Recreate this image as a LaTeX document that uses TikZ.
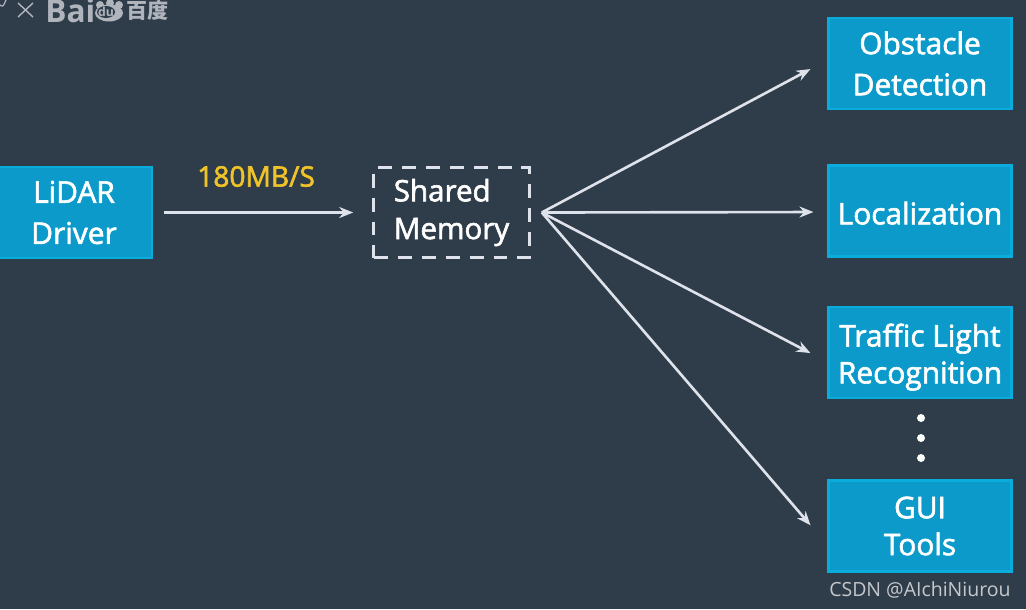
\documentclass[tikz,border=0pt]{standalone}
\usepackage{fontspec}
\setmainfont[FakeBold=2]{Open Sans}
\newfontfamily\cjkfont{Noto Sans CJK SC}
\newfontfamily\plainfont{Open Sans}
\usepackage{xcolor}
\usetikzlibrary{arrows.meta,positioning}
\definecolor{slatebg}{RGB}{47,60,73}
\definecolor{boxfill}{RGB}{11,154,201}
\definecolor{boxline}{RGB}{10,172,220}
\definecolor{arrowline}{RGB}{222,226,234}
\definecolor{ratelabel}{RGB}{240,196,40}
\definecolor{logogrey}{RGB}{176,180,188}
\tikzset{
  modulebox/.style={draw=boxline,fill=boxfill,line width=1.2pt,text=white,align=center,
    minimum width=3.66cm,minimum height=1.82cm,inner sep=0pt,font=\fontsize{17}{23.4}\selectfont},
  tightbox/.style={modulebox,font=\fontsize{17}{21}\selectfont},
  flowline/.style={->,arrowline,line width=1.5pt},
  dotnode/.style={circle,fill=white,inner sep=0pt,minimum size=0.16cm},
  logotext/.style={logogrey,inner sep=0pt,font=\plainfont\bfseries\fontsize{18}{18}\selectfont}
}
\begin{document}
\begin{tikzpicture}[x=0.02cm,y=-0.02cm,>={Stealth[length=0.28cm,width=0.22cm]}]
  \useasboundingbox (0,0) rectangle (1026,609);
  \fill[slatebg] (0,0) rectangle (1026,609);
  % boxes
  \node[modulebox,minimum width=3.12cm] (lidar) at (74,212.5) {LiDAR\\Driver};
  \node[draw=arrowline,dash pattern=on 0.28cm off 0.2cm,line width=1.5pt,text=white,align=left,
        minimum width=3.12cm,minimum height=1.8cm,inner sep=0pt,
        font=\fontsize{16.8}{21.5}\selectfont] (shared) at (451.5,212.5) {Shared\\Memory};
  \node[modulebox] (obstacle) at (920,63.5) {Obstacle\\Detection};
  \node[modulebox,text height=0.535cm,text depth=0cm] (local) at (920,211) {Localization};
  \node[tightbox,text height=1.38cm] (traffic) at (920,352.5) {Traffic Light\\Recognition};
  \node[tightbox] (gui) at (920,526) {GUI\\Tools};
  \coordinate[right=0.22cm of shared] (hub);
  % arrows
  \draw[flowline,shorten <=0.22cm,shorten >=0.38cm] (lidar.east) -- (shared.west) node[pos=0.47,yshift=0.72cm,ratelabel,
        font=\fontsize{16}{16}\selectfont] (rate) {180MB/S};
  \foreach \target/\off/\gap in {obstacle/-3.5/0.385,local/1/0.28,traffic/9.5/0.385,gui/19/0.52}{
    \draw[flowline,shorten >=\gap cm] (hub) -- ([yshift=-\off*0.02cm]\target.west);
  }
  % dots
  \node[dotnode] (dota) at (921,418) {};
  \node[dotnode] (dotb) at (921,438) {};
  \node[dotnode] (dotc) at (921,458) {};
  % logo and watermark
  \draw[logogrey,line width=0.7pt] (0,5) .. controls (3,7) .. (6,0);
  \draw[logogrey,line width=0.8pt] (18,3) -- (33,17) (33,3) -- (18,17);
  \node[logotext,anchor=west] (bai) at (45,11) {Bai};
  \fill[logogrey] (109,13) ellipse (14 and 8.5);
  \fill[logogrey] (100,5) circle (4) (110,3) circle (4) (119,5) circle (4);
  \fill[slatebg] (106,12) ellipse (9 and 6);
  \node[logogrey,inner sep=0pt,font=\plainfont\bfseries\fontsize{7}{7}\selectfont] (du) at (106,12) {du};
  \node[logotext,anchor=west,font=\cjkfont\bfseries\fontsize{12}{12}\selectfont] (baidu) at (126,10) {百度};
  \node[anchor=east,inner sep=0pt,text=white!72!slatebg,font=\plainfont\fontsize{11.1}{12}\selectfont] (mark) at (1011,590) {CSDN @AIchiNiurou};
\end{tikzpicture}
\end{document}
